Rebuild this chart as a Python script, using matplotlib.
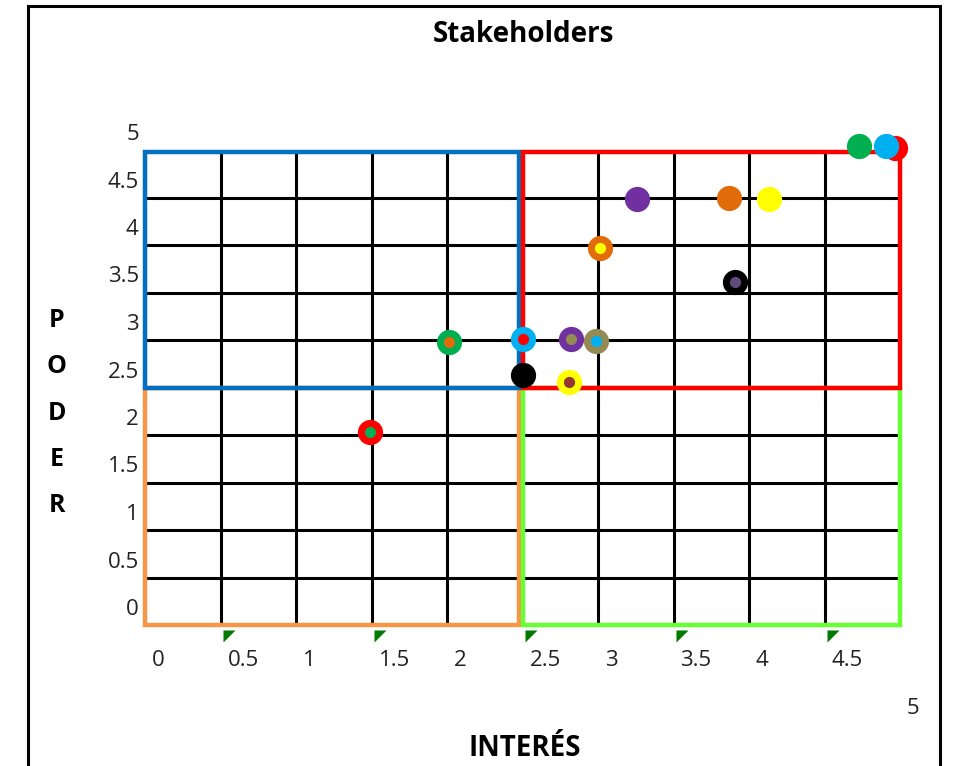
import matplotlib
matplotlib.use("Agg")
import matplotlib.pyplot as plt
import matplotlib.transforms as mtransforms
from matplotlib.patches import Rectangle
from matplotlib.path import Path
import numpy as np

plt.rcParams["font.family"] = ["Open Sans", "DejaVu Sans"]

# stakeholders: interes (x), poder (y), outer colour, inner colour
interes = [1.49, 2.01, 2.50, 2.50, 2.81, 2.82, 2.99, 3.01, 3.26, 3.91, 3.87, 4.13, 4.73, 4.97, 4.91]
poder = [2.03, 2.98, 3.01, 2.63, 2.56, 3.01, 2.99, 3.97, 4.48, 3.61, 4.49, 4.48, 5.04, 5.02, 5.04]
outer = ["#ff0000", "#00b050", "#00b0f0", "#000000", "#ffff00", "#7030a0", "#948a54",
         "#e36c0a", "#7030a0", "#000000", "#e36c0a", "#ffff00", "#00b050", "#ff0000", "#00b0f0"]
inner = ["#00b050", "#e36c0a", "#ff0000", None, "#953735", "#948a54", "#00b0f0",
         "#ffff00", None, "#604a7b", None, None, None, None, None]

ticks = [0, 0.5, 1, 1.5, 2, 2.5, 3, 3.5, 4, 4.5, 5]
tick_labels = ["0", "0.5", "1", "1.5", "2", "2.5", "3", "3.5", "4", "4.5", "5"]
flag_x = [0.5, 1.5, 2.5, 3.5, 4.5]

# quadrants: x0, y0, x1, y1, colour
quadrants = [
    (0, 0, 2.48, 2.5, "#f79646"),
    (2.5, 0, 5, 2.5, "#66ff33"),
    (0, 2.5, 2.48, 4.98, "#0070c0"),
    (2.5, 2.5, 5, 4.98, "#ff0000"),
]

fig = plt.figure(figsize=(9.67, 7.66), dpi=100)
ax = fig.add_axes([145 / 967, 1 - 625 / 766, 755 / 967, 475 / 766])
ax.set_xlim(0, 5)
ax.set_ylim(0, 5)

ax.set_xticks(ticks)
ax.set_xticklabels(tick_labels)
ax.set_yticks(ticks)
ax.set_yticklabels(tick_labels)
ax.grid(True, color="black", linewidth=2.2)
ax.set_axisbelow(True)
for s in ax.spines.values():
    s.set_visible(False)
ax.tick_params(length=0, labelsize=16, colors="#222222")
ax.tick_params(axis="y", pad=4.5)
ax.tick_params(axis="x", pad=18)

# shift labels like the original sheet
for lab in ax.get_yticklabels():
    lab.set_transform(lab.get_transform() + mtransforms.ScaledTranslation(0, 18 / 100, fig.dpi_scale_trans))
for i, lab in enumerate(ax.get_xticklabels()):
    lab.set_horizontalalignment("left")
    dy = -48 / 100 if i == len(tick_labels) - 1 else 0
    lab.set_transform(lab.get_transform() + mtransforms.ScaledTranslation(7 / 100, dy, fig.dpi_scale_trans))

for x0, y0, x1, y1, c in quadrants:
    ax.add_patch(Rectangle((x0, y0), x1 - x0, y1 - y0, fill=False, edgecolor=c,
                           linewidth=3.2, zorder=3, clip_on=False))

# small green flags under the axis
flag = Path([(-1, 1), (1, 1), (-1, -1), (-1, 1)], [Path.MOVETO, Path.LINETO, Path.LINETO, Path.CLOSEPOLY])
flag_tr = ax.transData + mtransforms.ScaledTranslation(8 / 100, -11 / 100, fig.dpi_scale_trans)
ax.scatter(flag_x, [0] * len(flag_x), marker=flag, s=75, color="#007a00",
           transform=flag_tr, clip_on=False, zorder=4, linewidths=0)

for x, y, oc, ic in zip(interes, poder, outer, inner):
    ax.scatter([x], [y], s=330, color=oc, zorder=5, clip_on=False, linewidths=0)
    if ic is not None:
        ax.scatter([x], [y], s=65, color=ic, zorder=6, clip_on=False, linewidths=0)

fig.text(523 / 967, 1 - 35 / 766, "Stakeholders", fontsize=20, fontweight="bold",
         ha="center", va="center")
fig.text(57 / 967, 1 - 413 / 766, "P\nO\nD\nE\nR", fontsize=18, fontweight="bold",
         ha="center", va="center", linespacing=2.13)
fig.text(525 / 967, 1 - 748 / 766, "INTERÉS", fontsize=20, fontweight="bold",
         ha="center", va="center")

fig.patches.append(Rectangle((28 / 967, -0.1), 912 / 967, 0.1 + 1 - 6 / 766, fill=False,
                             edgecolor="black", linewidth=2.2, transform=fig.transFigure))

fig.savefig("out.png", dpi=100)
